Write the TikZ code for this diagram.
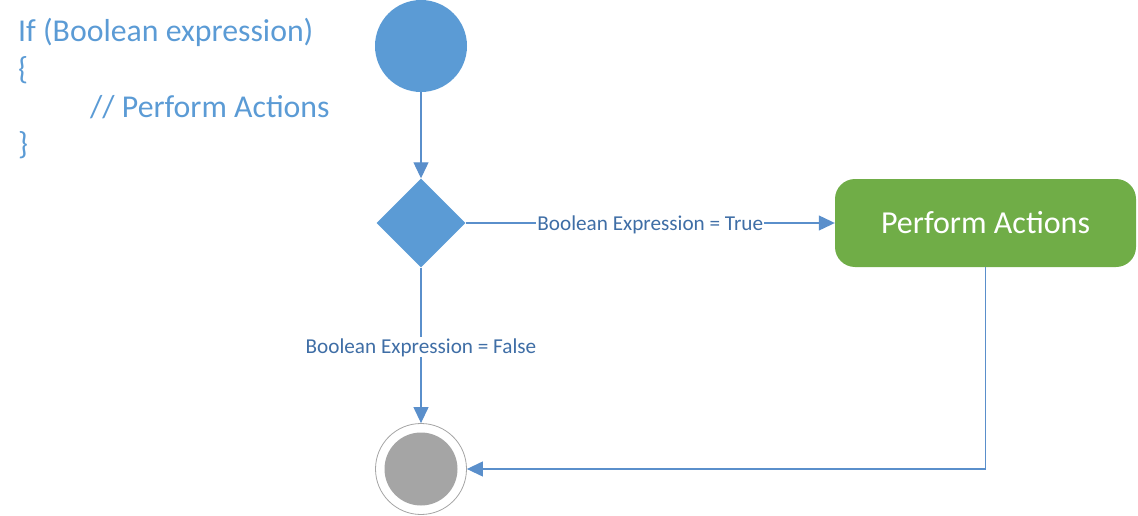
\documentclass[tikz,border=0pt]{standalone}
\usepackage{fontspec}
\setmainfont{Carlito}
\usetikzlibrary{shapes.geometric,arrows.meta}
\definecolor{nodeblue}{HTML}{5B9BD5}
\definecolor{lineblue}{HTML}{5A8FCB}
\definecolor{labelblue}{HTML}{3F6EA6}
\definecolor{actgreen}{HTML}{70AD47}
\definecolor{endgray}{HTML}{A5A5A5}
\tikzset{
  conn/.style={draw=lineblue, line width=1.2pt, -{Triangle[length=16pt,width=15pt]}},
  edgelabel/.style={fill=white, text=labelblue, font=\fontsize{21.2}{24}\selectfont, inner sep=1pt, yshift=-2pt},
  codetext/.style={text=nodeblue, font=\fontsize{31.8}{36}\selectfont, anchor=base west, inner sep=0pt},
}
\begin{document}
\begin{tikzpicture}[x=1pt,y=-1pt]
\useasboundingbox (0,0) rectangle (1138,516);
% code text
\node[codetext] (l1) at (18,42) {If (Boolean expression)};
\node[codetext] (l2) at (18,80) {\{};
\node[codetext] (l3) at (90,118) {// Perform Actions};
\node[codetext] (l4) at (18,155) {\}};
% nodes
\node[circle, fill=nodeblue, minimum size=92pt, inner sep=0pt] (start) at (421,46) {};
\node[diamond, fill=nodeblue, minimum width=89pt, minimum height=89pt, inner sep=0pt] (dec) at (421,223) {};
\node[rectangle, rounded corners=20pt, fill=actgreen, minimum width=301pt, minimum height=88pt, text=white, font=\fontsize{32}{36}\selectfont] (act) at (985.5,223) {Perform Actions};
\node[circle, draw=endgray, line width=0.8pt, fill=white, minimum size=91pt, inner sep=0pt] (endo) at (421,469) {};
\node[circle, fill=endgray, minimum size=73pt, inner sep=0pt] (endi) at (421,469) {};
% connectors
\draw[conn] (start.south) -- (dec.north);
\draw[conn] (dec.east) -- node[edgelabel] (tlab) {Boolean Expression = True} (act.west);
\draw[conn] (dec.south) -- node[edgelabel] (flab) {Boolean Expression = False} (endo.north);
\draw[conn] (act.south) |- (endo.east);
\end{tikzpicture}
\end{document}
